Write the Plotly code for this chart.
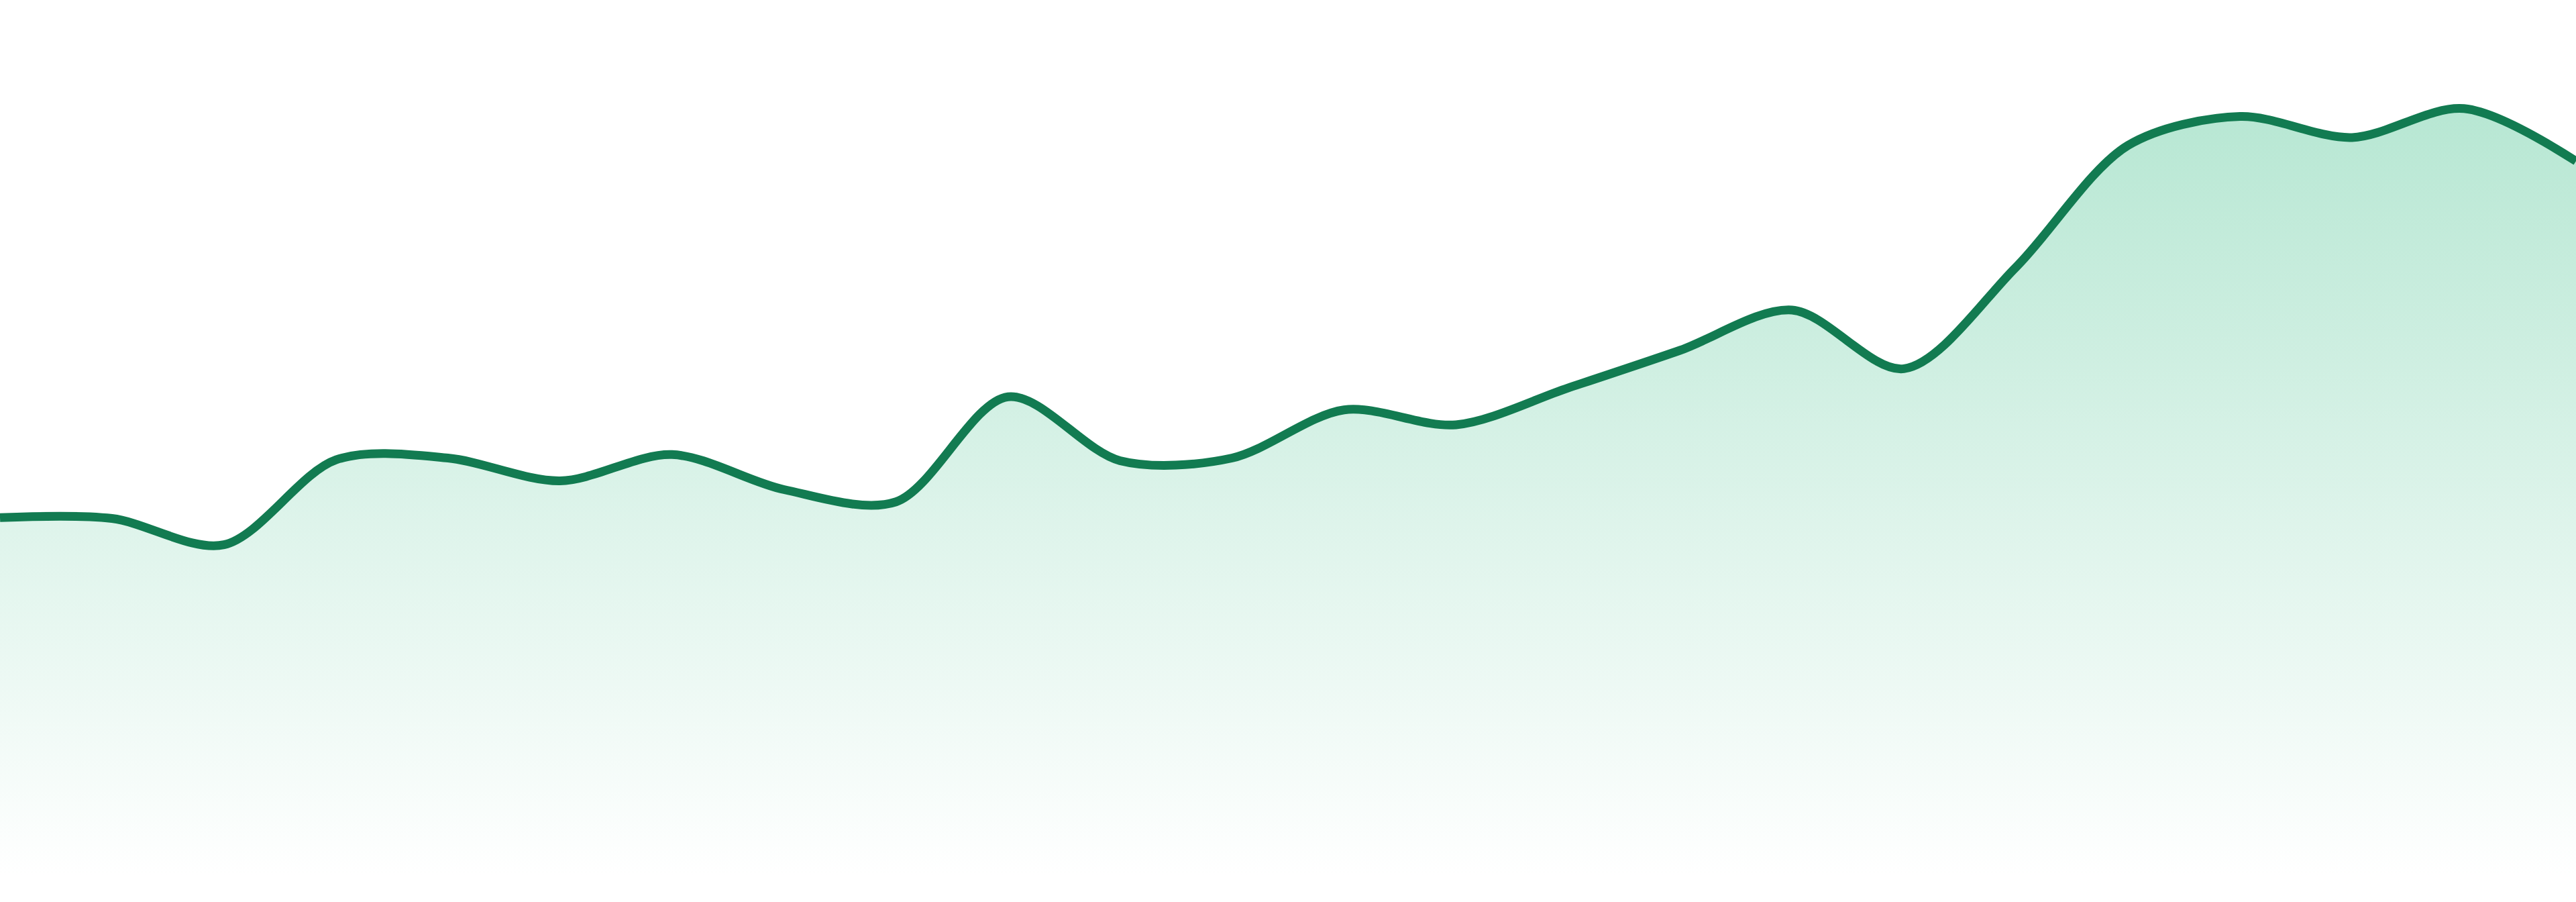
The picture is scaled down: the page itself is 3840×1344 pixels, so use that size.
import plotly.graph_objects as go

# 24 evenly spaced samples
periods = list(range(24))
values = [
    40.9, 40.8, 37.8, 47.5, 47.7, 45.1, 48.1, 44.1, 42.7, 54.7, 47.4, 47.7,
    53.2, 51.5, 55.7, 60.0, 64.6, 57.9, 69.5, 83.4, 86.7, 84.3, 87.6, 81.6,
]

LINE_COLOR = "rgb(18,123,81)"
FILL_TOP = "rgb(183,231,211)"
FILL_BOTTOM = "rgb(255,255,255)"

fig = go.Figure()

fig.add_trace(
    go.Scatter(
        x=periods,
        y=values,
        mode="lines",
        line=dict(color=LINE_COLOR, width=13, shape="spline", smoothing=0.9),
        fill="tozeroy",
        fillgradient=dict(
            type="vertical",
            start=0,
            stop=max(values),
            colorscale=[[0, FILL_BOTTOM], [1, FILL_TOP]],
        ),
        hoverinfo="skip",
        showlegend=False,
    )
)

fig.update_layout(
    width=3840,
    height=1344,
    margin=dict(l=0, r=0, t=0, b=39),
    paper_bgcolor="white",
    plot_bgcolor="white",
    showlegend=False,
)
fig.update_xaxes(range=[0, 23], visible=False, showgrid=False, zeroline=False)
fig.update_yaxes(range=[0, 100], visible=False, showgrid=False, zeroline=False)

# drop the default page margin so the chart sits flush in the window
fig.write_html(
    "out.html",
    config={"displayModeBar": False},
    post_script="document.body.style.margin='0';document.body.style.overflow='hidden';",
)
